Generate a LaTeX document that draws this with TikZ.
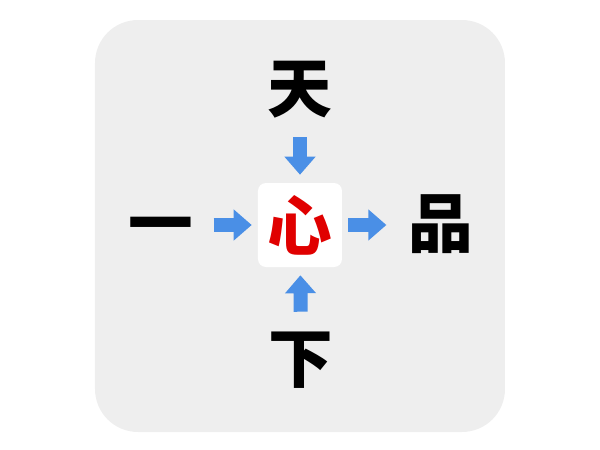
\documentclass[tikz,border=0pt]{standalone}
\usepackage{fontspec}
\usetikzlibrary{arrows.meta}
\newfontfamily\cjk{Noto Sans CJK SC}
\definecolor{panel}{HTML}{EEEEEE}
\definecolor{pfeilblau}{HTML}{4A8FE6}
\definecolor{herzrot}{HTML}{E00000}
\tikzset{
  zeichen/.style={inner sep=0pt, minimum size=1.6cm, text height=1.1cm, text depth=0cm,
    font=\cjk\bfseries\fontsize{46}{46}\selectfont},
  mitte/.style={fill=white, rounded corners=0.2cm, minimum size=2.1cm, inner sep=0pt,
    text=herzrot, font=\cjk\bfseries\fontsize{46}{46}\selectfont},
  pfeil/.style={pfeilblau, line width=0.35cm, -{Triangle[width=0.75cm,length=0.45cm]}}
}
\begin{document}
\begin{tikzpicture}
			\useasboundingbox (-7.5,-5.625) rectangle (7.5,5.625);
			\fill[panel, rounded corners=1.075cm] (-5.125,-5.175) rectangle (5.125,5.125);
			\node[mitte]   (xin)  at (0,      0)     {心};
			\node[zeichen] (tian) at (0,      3.375) {天};
			\node[zeichen] (yi)   at (-3.475, 0)     {一};
			\node[zeichen] (pin)  at (3.525,  0)     {品};
			\node[zeichen] (xia)  at (0.025, -3.375) {下};
			
			\def\hinein {tian/xin/0.375cm/0.2cm, yi/xin/0.5cm/0.15cm, xia/xin/0.4cm/0.2cm}  % arrows into the box
			\foreach \u\v\a\b in \hinein
			{	\draw[pfeil, shorten <=\a, shorten >=\b] (\u) -- (\v);
			}
			\def\hinaus {xin/pin/0.15cm/0.55cm}  % arrow out of the box
			\foreach \u\v\a\b in \hinaus
			{	\draw[pfeil, shorten <=\a, shorten >=\b] (\u) -- (\v);
			}
\end{tikzpicture}
\end{document}
